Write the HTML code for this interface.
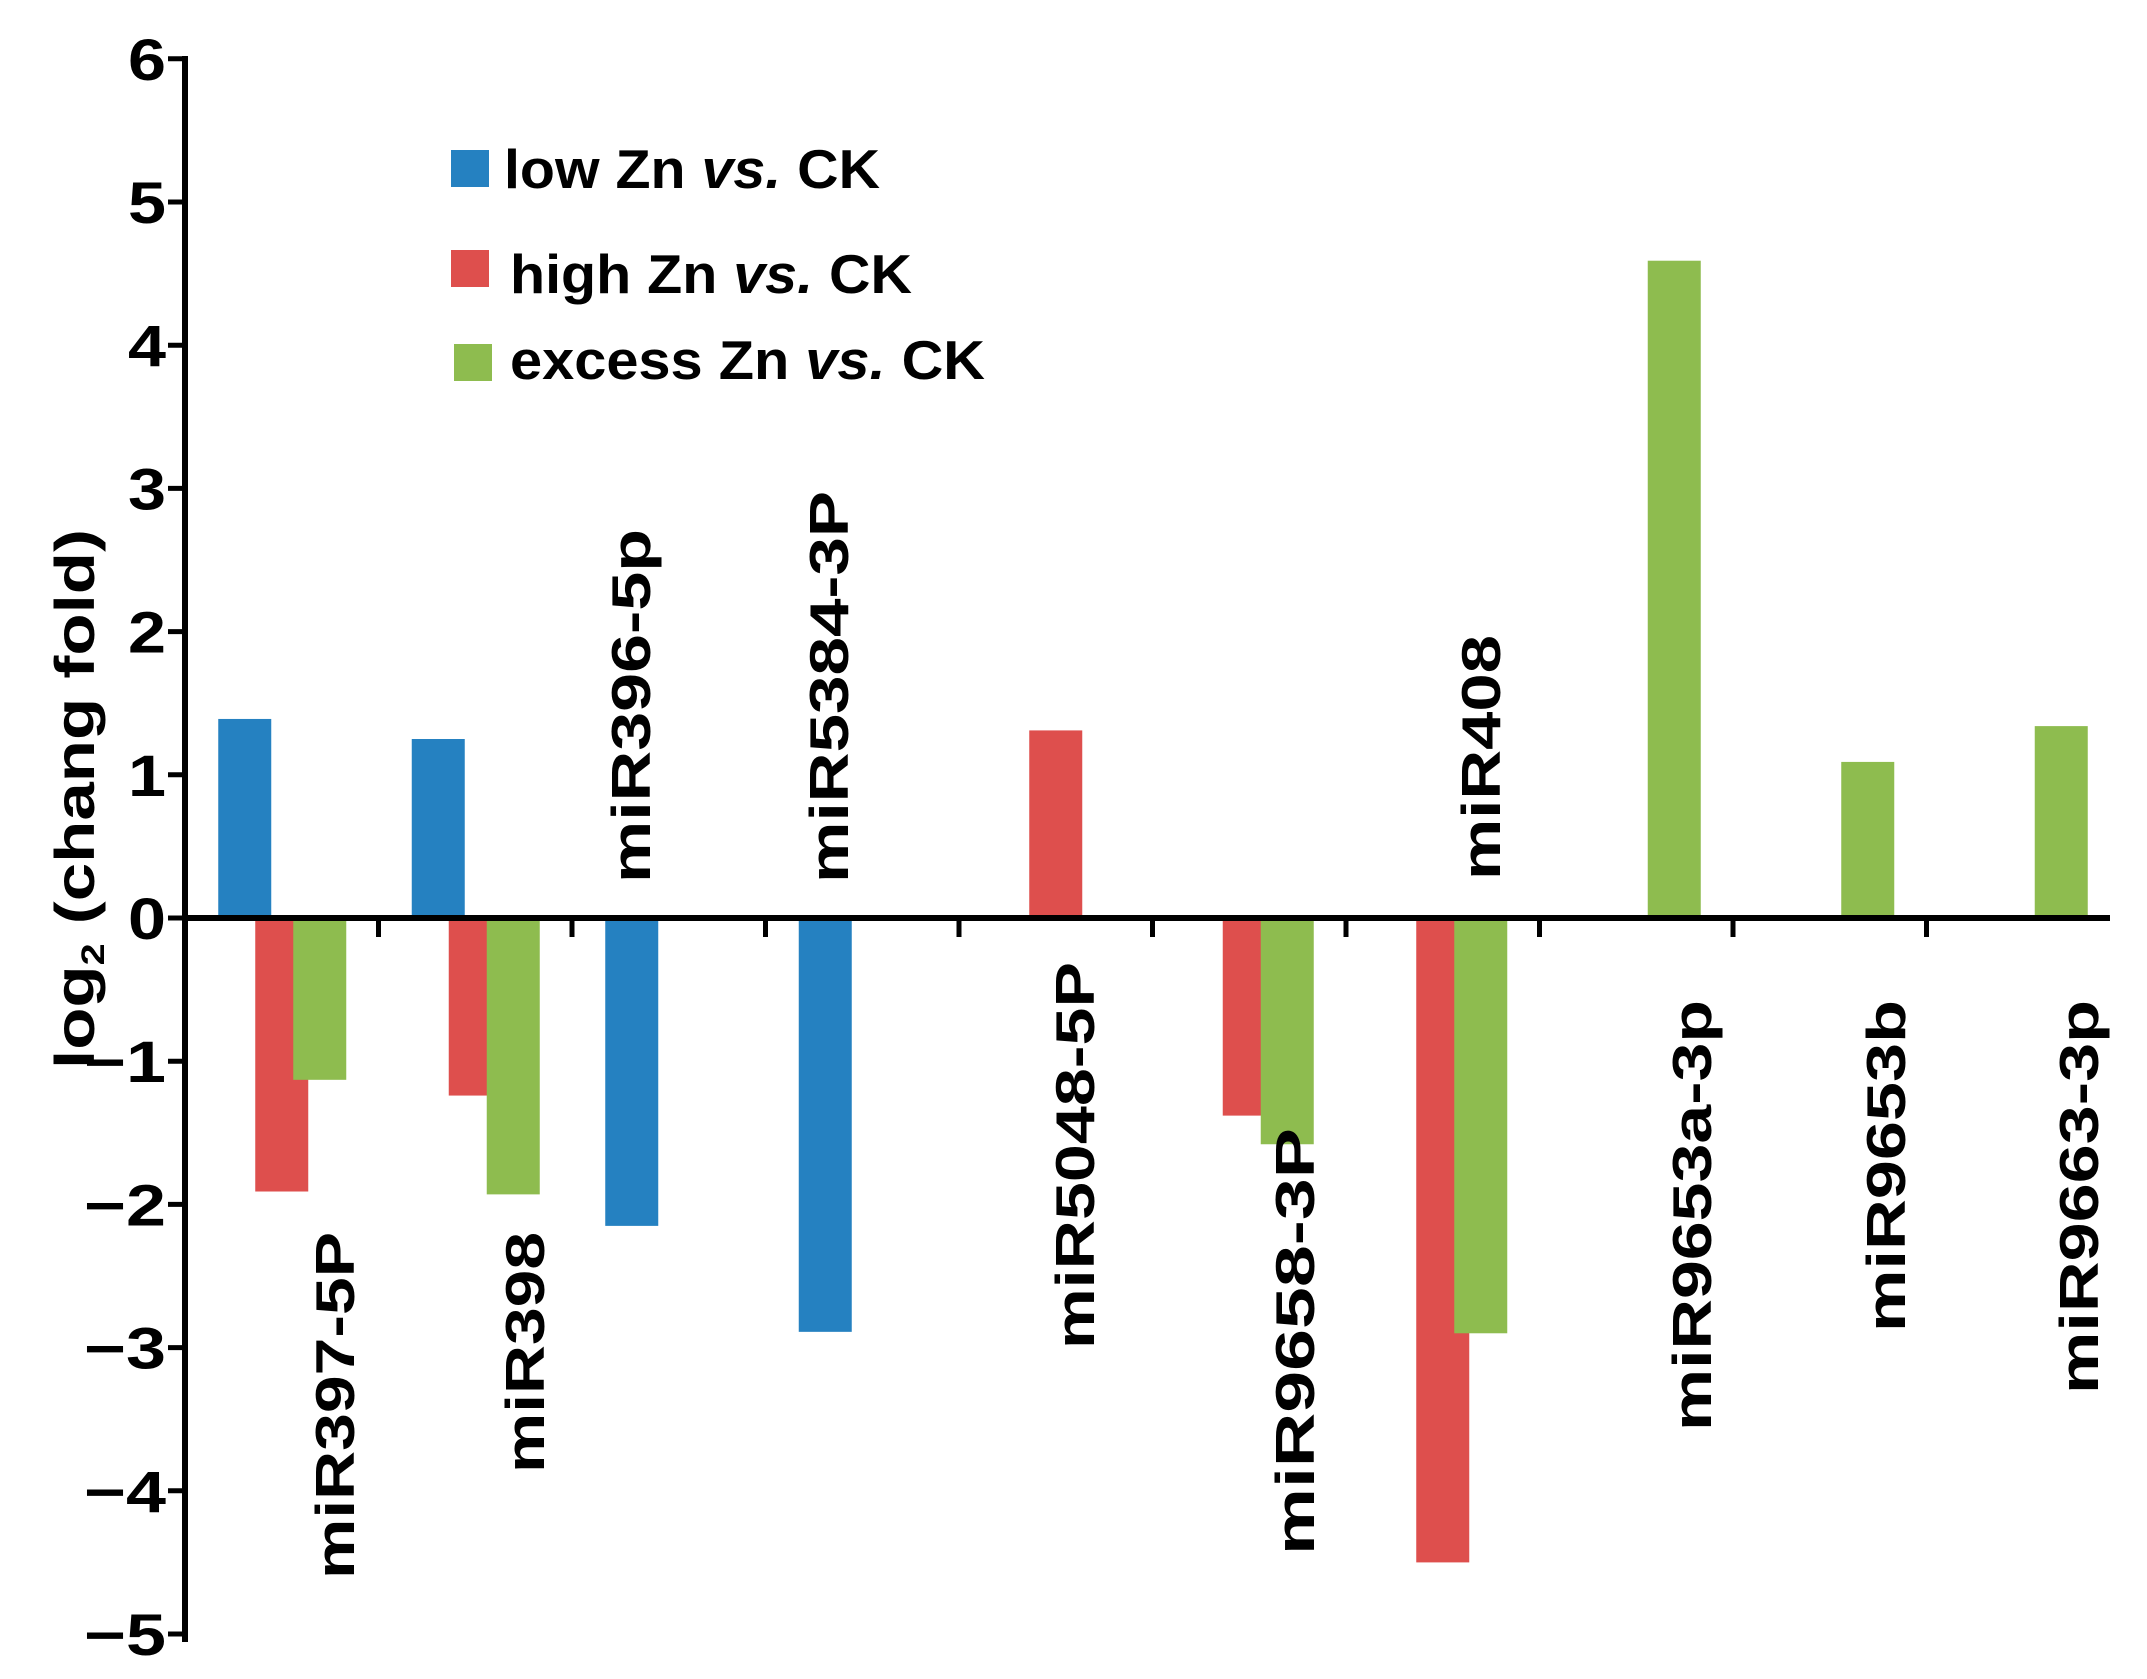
<!DOCTYPE html>
<html><head><meta charset="utf-8"><style>
html,body{margin:0;padding:0;background:#fff;}
svg{display:block;}
text{font-family:"Liberation Sans",Arial,sans-serif;font-weight:bold;fill:#000;}
</style></head><body>
<svg id="chart" width="2147" height="1679" viewBox="0 0 2147 1679" xmlns="http://www.w3.org/2000/svg"></svg>
<script>
const categories = ["miR397-5P","miR398","miR396-5p","miR5384-3P","miR5048-5P","miR9658-3P","miR408","miR9653a-3p","miR9653b","miR9663-3p"];
const lowZn    = [1.39, 1.25, -2.15, -2.89, null, null, null, null, null, null];
const highZn   = [-1.91, -1.24, null, null, 1.31, -1.38, -4.50, null, null, null];
const excessZn = [-1.13, -1.93, null, null, null, -1.58, -2.90, 4.59, 1.09, 1.34];
const yTicks = [6,5,4,3,2,1,0,-1,-2,-3,-4,-5];
const yTickLabels = ["6","5","4","3","2","1","0","\u22121","\u22122","\u22123","\u22124","\u22125"];
const seriesNames = ["low Zn","high Zn","excess Zn"];

const NS = "http://www.w3.org/2000/svg";
const svg = document.getElementById('chart');
const X0 = 185, STEP = 193.5, Y0 = 918, UNIT = 143.2;
function y(v){ return Y0 - v*UNIT; }
function xc(i){ return X0 + STEP*(i+0.5); }
function mk(tag, attrs){ const e=document.createElementNS(NS,tag); for(const k in attrs) e.setAttribute(k,attrs[k]); svg.appendChild(e); return e; }

const colors = ["#2581C1","#DE4F4D","#8EBC4F"];
const offsets = [-63.5, -26.5, 11.5];
const BW = 53;
const series = [lowZn, highZn, excessZn];
series.forEach((arr, s) => {
  arr.forEach((v, i) => {
    if (v === null) return;
    const r = mk('rect', {x: xc(i)+offsets[s], y: Math.min(y(v), Y0), width: BW, height: Math.abs(y(v)-Y0), fill: colors[s]});
    
    
  });
});

// axes
const ya = mk('line', {x1: X0, y1: 56, x2: X0, y2: 1642, stroke: '#000', 'stroke-width': 6});


const xa = mk('line', {x1: X0, y1: Y0, x2: 2110, y2: Y0, stroke: '#000', 'stroke-width': 6});



yTicks.forEach((t, k) => {
  const tk = mk('line', {x1: 168, y1: y(t), x2: X0, y2: y(t), stroke: '#000', 'stroke-width': 5});
  
  
  const lab = yTickLabels[k];
  const tx = mk('text', {x: 166, y: y(t)+21, 'text-anchor': 'end', 'font-size': 58, textLength: lab.length > 1 ? 82 : 38, lengthAdjust: 'spacingAndGlyphs'});
  tx.textContent = lab;
  
  
});
for (let i = 1; i < categories.length; i++) {
  const tk = mk('line', {x1: X0+STEP*i, y1: Y0, x2: X0+STEP*i, y2: 937, stroke: '#000', 'stroke-width': 5});
  
  
}

// category labels: [baselineX, bottomY, length]
const labelPos = [[354,1579,347],[544,1473,241],[650,883,354],[848,883,392],[1094,1349,387],[1314,1555,427],[1500,880,245],[1711,1431,431],[1905,1332,332],[2098,1394,394]];
categories.forEach((c, i) => {
  const p = labelPos[i];
  const t = mk('text', {x: 0, y: 0, 'font-size': 55, textLength: p[2], lengthAdjust: 'spacingAndGlyphs', transform: `translate(${p[0]},${p[1]}) rotate(-90)`});
  t.textContent = c;
  
  
});

// y axis title
const yt = mk('text', {x: 0, y: 0, 'font-size': 56, textLength: 540, lengthAdjust: 'spacingAndGlyphs', transform: 'translate(94,1069) rotate(-90)'});


yt.innerHTML = 'log<tspan font-size="32" dy="10">2</tspan><tspan dy="-10"> (chang fold)</tspan>';

// legend
const legend = [
  {sq:[451,150], tx:[504,188], len:376, name:'low Zn'},
  {sq:[451,250], tx:[510,293], len:402, name:'high Zn'},
  {sq:[454,344], tx:[510,379], len:475, name:'excess Zn'}
];
legend.forEach((l, s) => {
  const r = mk('rect', {x: l.sq[0], y: l.sq[1], width: 38, height: 37, fill: colors[s]});
  
  
  const t = mk('text', {x: l.tx[0], y: l.tx[1], 'font-size': 55, textLength: l.len, lengthAdjust: 'spacingAndGlyphs'});
  t.innerHTML = l.name + ' <tspan font-style="italic">vs.</tspan> CK';
  
  
});
</script>
</body></html>
